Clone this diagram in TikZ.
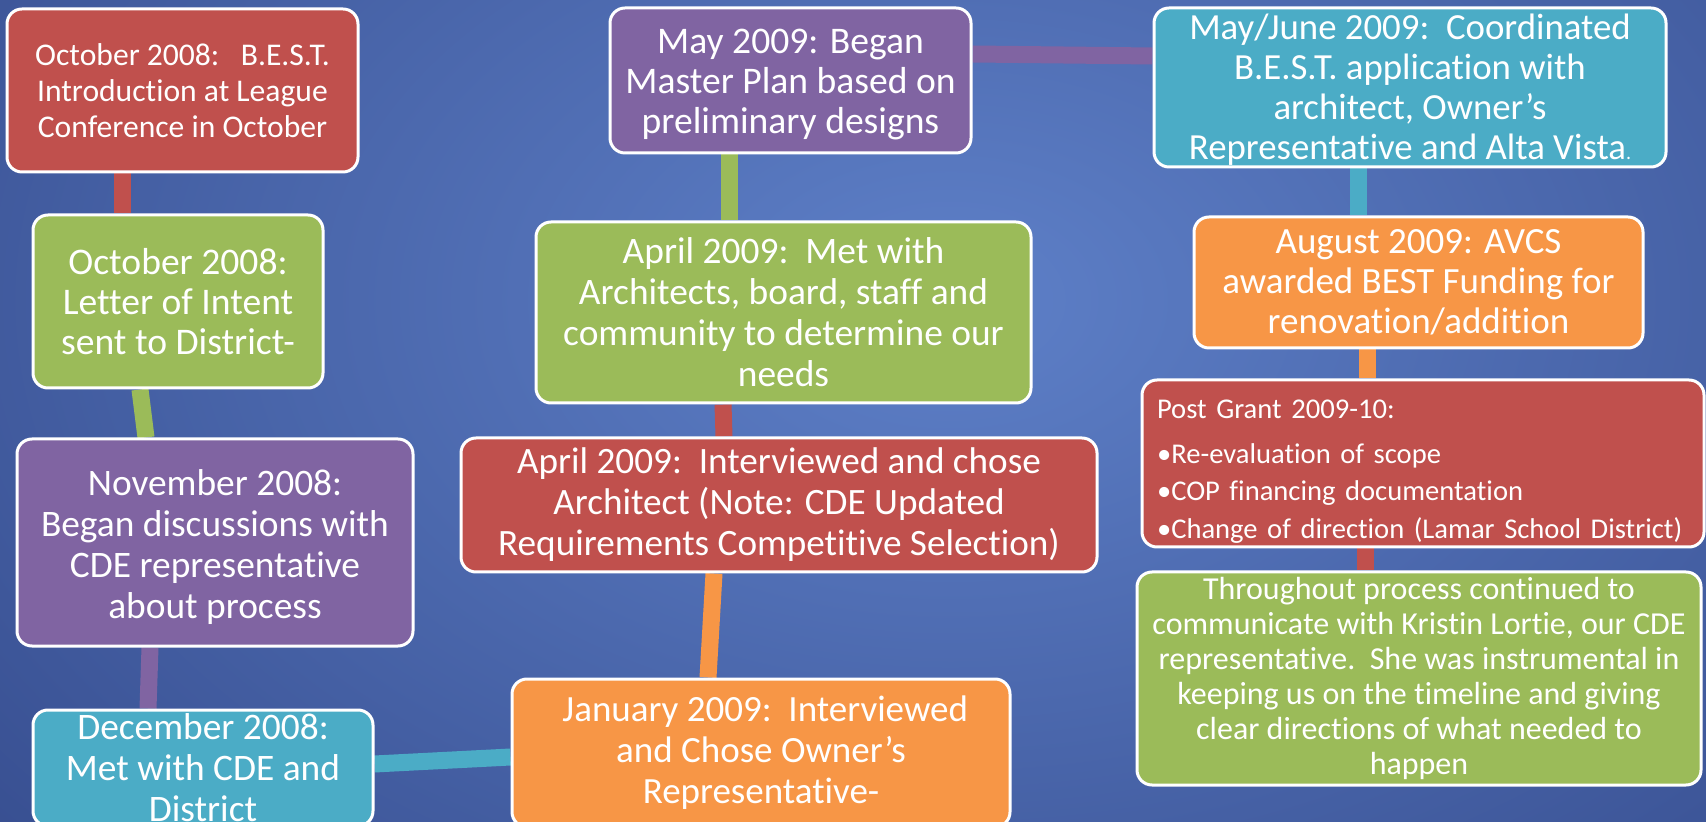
\documentclass[tikz,border=0pt]{standalone}
\usepackage{fontspec}
\setmainfont{Carlito}[Ligatures=NoCommon]
\usetikzlibrary{calc}

\definecolor{bgdark}{RGB}{30,46,108}
\definecolor{bglight}{RGB}{94,128,200}
\definecolor{accred}{RGB}{192,80,77}
\definecolor{accgreen}{RGB}{155,187,89}
\definecolor{accpurple}{RGB}{128,100,162}
\definecolor{acccyan}{RGB}{75,172,198}
\definecolor{accorange}{RGB}{247,150,70}

\pgfdeclarelayer{bg}
\pgfsetlayers{bg,main}

% taller first line, pushes the text down in its box
\newcommand{\firstline}[1]{\rule{0pt}{#1}}

\begin{document}
\begin{tikzpicture}[x=0.5pt, y=-0.5pt,
    box/.style={draw=white, line width=1.5pt, rounded corners=7.5pt, text=white,
        inner sep=0pt, align=center},
    link/.style={line width=8.5pt}]
    \useasboundingbox (0,0) rectangle (1706,822);

    % left column
    \node[box, fill=accred, minimum width=175.5pt, minimum height=81.5pt,
        font=\fontsize{15.8}{18}\selectfont] (octa) at (182.5,90.5)
        {October 2008:\ \ \ B.E.S.T.\\Introduction at League\\Conference in October};
    \node[box, fill=accgreen, minimum width=145pt, minimum height=86.5pt,
        font=\fontsize{18.8}{20}\selectfont] (octb) at (178,301.5)
        {October 2008:\\Letter of Intent\\sent to District-};
    \node[box, fill=accpurple, minimum width=198pt, minimum height=103.5pt,
        font=\fontsize{18.7}{20.5}\selectfont] (nov) at (215,542.5)
        {\firstline{18pt}November 2008:\\Began discussions with\\CDE representative\\about process};
    \node[box, fill=acccyan, minimum width=170pt, minimum height=58pt,
        font=\fontsize{18.7}{20.5}\selectfont] (dec) at (203,768)
        {December 2008:\\Met with CDE and\\District};

    % middle column
    \node[box, fill=accorange, minimum width=249pt, minimum height=74pt,
        font=\fontsize{18.5}{20.5}\selectfont] (jan) at (761,753)
        {\ January 2009:\ \ Interviewed\\and Chose Owner’s\\Representative-};
    \node[box, fill=accred, minimum width=318pt, minimum height=67pt,
        font=\fontsize{18.6}{20.5}\selectfont] (apra) at (779,505)
        {April 2009:\ \ Interviewed and chose\\Architect (Note: CDE Updated\\Requirements Competitive Selection)};
    \node[box, fill=accgreen, minimum width=247.5pt, minimum height=90.5pt,
        font=\fontsize{18.7}{20.5}\selectfont] (aprb) at (783.5,312.5)
        {April 2009:\ \ Met with\\Architects, board, staff and\\community to determine our\\needs};
    \node[box, fill=accpurple, minimum width=180.5pt, minimum height=72.5pt,
        font=\fontsize{18.8}{20}\selectfont] (may) at (790.5,80.5)
        {\firstline{16pt}May 2009: Began\\Master Plan based on\\preliminary designs};

    % right column
    \node[box, fill=acccyan, minimum width=256pt, minimum height=79.5pt,
        font=\fontsize{18.4}{20}\selectfont] (mayjune) at (1410,87.5)
        {\firstline{15pt}May/June 2009:\ \ Coordinated\\B.E.S.T. application with\\architect, Owner’s\\Representative and Alta Vista{\fontsize{10}{10}\selectfont .}};
    \node[box, fill=accorange, minimum width=224.5pt, minimum height=65.5pt,
        font=\fontsize{18.5}{20}\selectfont] (aug) at (1418.5,282.5)
        {August 2009: AVCS\\awarded BEST Funding for\\renovation/addition};
    \node[box, fill=accred, minimum width=281pt, minimum height=83.5pt, align=left,
        text width=266pt, inner xsep=7.5pt,
        font=\fontsize{14.3}{18.75}\selectfont] (post) at (1423,463.5)
        {\firstline{17.4pt}Post Grant 2009-10:\\[3.75pt]\textbullet Re-evaluation of scope\\\textbullet COP financing documentation\\\textbullet Change of direction (Lamar School District)};
    \node[box, fill=accgreen, minimum width=282pt, minimum height=106.5pt,
        font=\fontsize{16}{17.5}\selectfont] (thru) at (1419,678.5)
        {Throughout process continued to\\communicate with Kristin Lortie, our CDE\\representative.\ \ She was instrumental in\\keeping us on the timeline and giving\\clear directions of what needed to\\happen};

    \begin{pgfonlayer}{bg}
        \shade[inner color=bglight, outer color=bgdark] (-1150,-1100) rectangle (3050,1700);
        % upper box / lower box, offsets from the centre
        \foreach \up/\ux/\lo/\lx/\col in {octa/-60.5/octb/-56/accred,
                octb/-38/nov/-69/accgreen, nov/-65/dec/-55/accpurple,
                apra/-65/jan/-53/accorange, aprb/-60.5/apra/-55/accred,
                may/-61.5/aprb/-54.5/accgreen, mayjune/-52/aug/-60.5/acccyan,
                aug/-51.5/post/-56/accorange, post/-58/thru/-54/accred}
            \draw[link, \col] ($(\up.south)+(\ux,0)$) -- ($(\lo.north)+(\lx,0)$);
        \draw[link, acccyan] ($(dec.east)+(0,-4)$) -- ($(jan.west)+(0,4)$);
        \draw[link, accpurple] ($(may.east)+(0,-26.5)$) -- ($(mayjune.west)+(0,-31.5)$);
    \end{pgfonlayer}
\end{tikzpicture}
\end{document}
